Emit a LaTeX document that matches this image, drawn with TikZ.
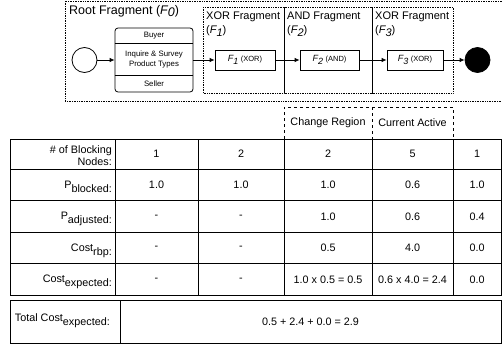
\documentclass[tikz,border=0pt]{standalone}
\usepackage{fontspec}
\setmainfont{Liberation Sans}
\usetikzlibrary{arrows.meta, positioning, calc}

\newcommand{\rlab}[2]{\raisebox{4pt}{#1}#2}
\newcommand{\fsub}[2]{{\itshape #1\raisebox{-2.5pt}{#2}}}

\begin{document}
\begin{tikzpicture}[
    x=1pt, y=-1pt,
    >={Latex[length=5pt,width=4.5pt]},
    frag/.style={densely dotted, line width=0.7pt},
    region/.style={dashed, line width=0.7pt},
    tab/.style={line width=0.8pt},
    ev/.style={draw, circle, minimum size=25pt, inner sep=0pt, line width=0.8pt},
    fbox/.style={draw, line width=0.8pt, minimum height=20pt, inner sep=1pt, font=\fontsize{9}{10}\selectfont},
    tasktxt/.style={inner sep=0pt, align=center, font=\fontsize{7.8}{9.5}\selectfont},
    cell/.style={inner sep=0pt, font=\fontsize{10.8}{12}\selectfont},
    rowlab/.style={cell, anchor=base east, align=right},
    fraglab/.style={anchor=north west, align=left, inner sep=0pt, font=\fontsize{11}{14}\selectfont}
]
\useasboundingbox (0,0) rectangle (502,348);

% fragments
\draw[frag] (502,1) -- (65,1) -- (65,101) -- (502,101);
\draw[frag] (203,7) rectangle (284,93);
\draw[frag] (284,7) rectangle (372,93);
\draw[frag] (372,7) rectangle (453,93);
\node[fraglab, font=\fontsize{12.5}{14}\selectfont] (rootlab) at (69,5) {Root Fragment (\fsub{F}{0})};
\node[fraglab] (f1lab) at (206,12) {XOR Fragment\\(\fsub{F}{1})};
\node[fraglab] (f2lab) at (287,12) {AND Fragment\\(\fsub{F}{2})};
\node[fraglab] (f3lab) at (375,12) {XOR Fragment\\(\fsub{F}{3})};

% process
\node[ev] (start) at (84.5,60) {};
\node[draw, rounded corners=3pt, line width=0.8pt, minimum width=78pt, minimum height=64pt] (task) at (154,60) {};
\node[tasktxt] (buyer) at (154,36) {Buyer};
\node[tasktxt] (inq) at (154,59.5) {Inquire \& Survey\\Product Types};
\node[tasktxt] (seller) at (154,83.5) {Seller};
\draw[line width=0.8pt] ($(task.north west)+(0,16)$) -- ($(task.north east)+(0,16)$);
\draw[line width=0.8pt] ($(task.south west)+(0,-17)$) -- ($(task.south east)+(0,-17)$);
\node[fbox, minimum width=60pt] (f1) at (245,60) {\fsub{F}{1} {\fontsize{7.5}{9}\selectfont(XOR)}};
\node[fbox, minimum width=59pt] (f2) at (329.5,60) {\fsub{F}{2} {\fontsize{7.5}{9}\selectfont(AND)}};
\node[fbox, minimum width=56pt] (f3) at (415,60) {\fsub{F}{3} {\fontsize{7.5}{9}\selectfont(XOR)}};
\node[ev, fill=black] (end) at (477.5,60) {};

\draw[->, line width=0.8pt] (start) -- (task);
\draw[->, line width=0.8pt] (task) -- (f1);
\draw[->, line width=0.8pt] (f1) -- (f2);
\draw[->, line width=0.8pt] (f2) -- (f3);
\draw[->, line width=0.8pt] (f3) -- (end);

% regions
\draw[region] (284,139) -- (284,107) -- (453,107) -- (453,139);
\draw[region] (372,107) -- (372,139);
\node[cell] (chg) at (328,123) {Change Region};
\node[cell] (cur) at (412.5,123) {Current Active};

% table
\draw[tab] (10,139) rectangle (501,295);
\foreach \y in {169,200,232,263} \draw[tab] (10,\y) -- (501,\y);
\foreach \x in {115,198,284,372,453} \draw[tab] (\x,139) -- (\x,295);
\draw[tab] (10,300) rectangle (501,343);
\draw[tab] (120,300) -- (120,343);

\node[rowlab] (lblk) at (112,165) {\# of Blocking\\Nodes:};
\node[rowlab] (lpb) at (112,192) {\rlab{P}{blocked:}};
\node[rowlab] (lpa) at (112,223.5) {\rlab{P}{adjusted:}};
\node[rowlab] (lcr) at (112,255) {\rlab{Cost}{rbp:}};
\node[rowlab] (lce) at (112,286.5) {\rlab{Cost}{expected:}};
\node[rowlab] (ltot) at (110,325) {\rlab{Total Cost}{expected:}};

\foreach \x/\v [count=\i] in {156.5/1, 241/2, 328/2, 412.5/5, 477/1}
  \node[cell] (blk\i) at (\x,154) {\v};
\foreach \x/\v [count=\i] in {156.5/1.0, 241/1.0, 328/1.0, 412.5/0.6, 477/1.0}
  \node[cell] (pb\i) at (\x,185) {\v};
\foreach \x/\v [count=\i] in {156.5/-, 241/-, 328/1.0, 412.5/0.6, 477/0.4}
  \node[cell] (pa\i) at (\x,216.5) {\v};
\foreach \x/\v [count=\i] in {156.5/-, 241/-, 328/0.5, 412.5/4.0, 477/0.0}
  \node[cell] (cr\i) at (\x,248) {\v};
\foreach \x/\v [count=\i] in {156.5/-, 241/-, 328/1.0 x 0.5 = 0.5, 412.5/0.6 x 4.0 = 2.4, 477/0.0}
  \node[cell] (ce\i) at (\x,279.5) {\v};
\node[cell] (tot) at (310.5,321.5) {0.5 + 2.4 + 0.0 = 2.9};
\end{tikzpicture}
\end{document}
